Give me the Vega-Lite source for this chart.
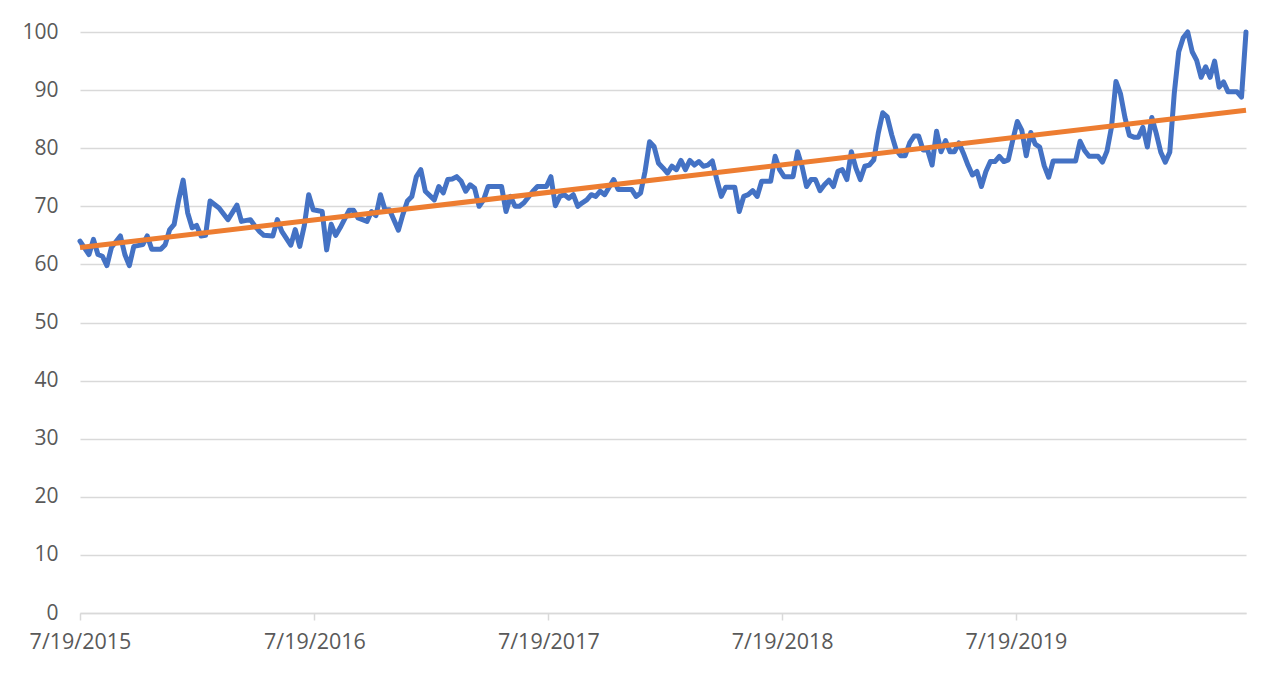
{
  "$schema": "https://vega.github.io/schema/vega-lite/v6.json",
  "width": 1166,
  "height": 581,
  "autosize": {"type": "none"},
  "padding": {"left": 80, "top": 32, "right": 34, "bottom": 68},
  "background": "white",
  "config": {"view": {"stroke": null}, "font": "Open Sans"},
  "data": {"values": [
    {"date": "2015-07-19", "value": 64},
    {"date": "2015-08-02", "value": 61.7},
    {"date": "2015-08-09", "value": 64.3},
    {"date": "2015-08-16", "value": 61.7},
    {"date": "2015-08-23", "value": 61.4},
    {"date": "2015-08-30", "value": 59.8},
    {"date": "2015-09-06", "value": 62.9},
    {"date": "2015-09-20", "value": 64.9},
    {"date": "2015-09-27", "value": 61.7},
    {"date": "2015-10-04", "value": 59.8},
    {"date": "2015-10-11", "value": 63.1},
    {"date": "2015-10-25", "value": 63.4},
    {"date": "2015-11-01", "value": 64.9},
    {"date": "2015-11-08", "value": 62.6},
    {"date": "2015-11-22", "value": 62.6},
    {"date": "2015-11-29", "value": 63.4},
    {"date": "2015-12-06", "value": 66},
    {"date": "2015-12-13", "value": 66.9},
    {"date": "2015-12-20", "value": 71.1},
    {"date": "2015-12-27", "value": 74.5},
    {"date": "2016-01-03", "value": 68.9},
    {"date": "2016-01-10", "value": 66.3},
    {"date": "2016-01-17", "value": 66.7},
    {"date": "2016-01-24", "value": 64.9},
    {"date": "2016-01-31", "value": 65},
    {"date": "2016-02-07", "value": 70.9},
    {"date": "2016-02-21", "value": 69.7},
    {"date": "2016-03-06", "value": 67.7},
    {"date": "2016-03-20", "value": 70.2},
    {"date": "2016-03-27", "value": 67.4},
    {"date": "2016-04-10", "value": 67.7},
    {"date": "2016-04-17", "value": 66.6},
    {"date": "2016-04-24", "value": 65.7},
    {"date": "2016-05-01", "value": 65},
    {"date": "2016-05-15", "value": 64.9},
    {"date": "2016-05-22", "value": 67.7},
    {"date": "2016-05-29", "value": 65.7},
    {"date": "2016-06-12", "value": 63.3},
    {"date": "2016-06-19", "value": 66},
    {"date": "2016-06-26", "value": 63.1},
    {"date": "2016-07-03", "value": 66.6},
    {"date": "2016-07-10", "value": 72},
    {"date": "2016-07-17", "value": 69.4},
    {"date": "2016-07-31", "value": 69.1},
    {"date": "2016-08-07", "value": 62.5},
    {"date": "2016-08-14", "value": 66.9},
    {"date": "2016-08-21", "value": 65},
    {"date": "2016-08-28", "value": 66.3},
    {"date": "2016-09-11", "value": 69.3},
    {"date": "2016-09-18", "value": 69.3},
    {"date": "2016-09-25", "value": 68},
    {"date": "2016-10-09", "value": 67.4},
    {"date": "2016-10-16", "value": 69.1},
    {"date": "2016-10-23", "value": 68.4},
    {"date": "2016-10-30", "value": 72},
    {"date": "2016-11-06", "value": 69.4},
    {"date": "2016-11-13", "value": 69.4},
    {"date": "2016-11-27", "value": 65.9},
    {"date": "2016-12-04", "value": 68.6},
    {"date": "2016-12-11", "value": 70.9},
    {"date": "2016-12-18", "value": 71.7},
    {"date": "2016-12-25", "value": 75.1},
    {"date": "2017-01-01", "value": 76.3},
    {"date": "2017-01-08", "value": 72.6},
    {"date": "2017-01-22", "value": 71.1},
    {"date": "2017-01-29", "value": 73.4},
    {"date": "2017-02-05", "value": 72.3},
    {"date": "2017-02-12", "value": 74.6},
    {"date": "2017-02-19", "value": 74.7},
    {"date": "2017-02-26", "value": 75.1},
    {"date": "2017-03-05", "value": 74.3},
    {"date": "2017-03-12", "value": 72.6},
    {"date": "2017-03-19", "value": 73.7},
    {"date": "2017-03-26", "value": 73.1},
    {"date": "2017-04-02", "value": 70},
    {"date": "2017-04-09", "value": 71.1},
    {"date": "2017-04-16", "value": 73.4},
    {"date": "2017-04-30", "value": 73.4},
    {"date": "2017-05-07", "value": 73.4},
    {"date": "2017-05-14", "value": 69.1},
    {"date": "2017-05-21", "value": 71.7},
    {"date": "2017-05-28", "value": 70},
    {"date": "2017-06-04", "value": 70},
    {"date": "2017-06-11", "value": 70.6},
    {"date": "2017-06-25", "value": 72.6},
    {"date": "2017-07-02", "value": 73.4},
    {"date": "2017-07-09", "value": 73.4},
    {"date": "2017-07-16", "value": 73.4},
    {"date": "2017-07-23", "value": 75.1},
    {"date": "2017-07-30", "value": 70.1},
    {"date": "2017-08-06", "value": 71.7},
    {"date": "2017-08-13", "value": 72},
    {"date": "2017-08-20", "value": 71.4},
    {"date": "2017-08-27", "value": 72},
    {"date": "2017-09-03", "value": 70},
    {"date": "2017-09-10", "value": 70.6},
    {"date": "2017-09-17", "value": 71.1},
    {"date": "2017-09-24", "value": 72},
    {"date": "2017-10-01", "value": 71.7},
    {"date": "2017-10-08", "value": 72.6},
    {"date": "2017-10-15", "value": 72},
    {"date": "2017-10-29", "value": 74.6},
    {"date": "2017-11-05", "value": 72.9},
    {"date": "2017-11-12", "value": 72.9},
    {"date": "2017-11-26", "value": 72.9},
    {"date": "2017-12-03", "value": 71.7},
    {"date": "2017-12-10", "value": 72.3},
    {"date": "2017-12-17", "value": 76},
    {"date": "2017-12-24", "value": 81.1},
    {"date": "2017-12-31", "value": 80.3},
    {"date": "2018-01-07", "value": 77.4},
    {"date": "2018-01-14", "value": 76.6},
    {"date": "2018-01-21", "value": 75.7},
    {"date": "2018-01-28", "value": 76.9},
    {"date": "2018-02-04", "value": 76.3},
    {"date": "2018-02-11", "value": 77.9},
    {"date": "2018-02-18", "value": 76.3},
    {"date": "2018-02-25", "value": 77.9},
    {"date": "2018-03-04", "value": 77.1},
    {"date": "2018-03-11", "value": 77.7},
    {"date": "2018-03-18", "value": 76.9},
    {"date": "2018-03-25", "value": 77.1},
    {"date": "2018-04-01", "value": 77.8},
    {"date": "2018-04-08", "value": 74.6},
    {"date": "2018-04-15", "value": 71.7},
    {"date": "2018-04-22", "value": 73.3},
    {"date": "2018-05-06", "value": 73.3},
    {"date": "2018-05-13", "value": 69.1},
    {"date": "2018-05-20", "value": 71.7},
    {"date": "2018-05-27", "value": 72},
    {"date": "2018-06-03", "value": 72.7},
    {"date": "2018-06-10", "value": 71.7},
    {"date": "2018-06-17", "value": 74.3},
    {"date": "2018-07-01", "value": 74.3},
    {"date": "2018-07-08", "value": 78.6},
    {"date": "2018-07-15", "value": 76.3},
    {"date": "2018-07-22", "value": 75.1},
    {"date": "2018-08-05", "value": 75.1},
    {"date": "2018-08-12", "value": 79.4},
    {"date": "2018-08-19", "value": 76.9},
    {"date": "2018-08-26", "value": 73.4},
    {"date": "2018-09-02", "value": 74.6},
    {"date": "2018-09-09", "value": 74.6},
    {"date": "2018-09-16", "value": 72.7},
    {"date": "2018-09-23", "value": 73.7},
    {"date": "2018-09-30", "value": 74.5},
    {"date": "2018-10-07", "value": 73.4},
    {"date": "2018-10-14", "value": 76},
    {"date": "2018-10-21", "value": 76.3},
    {"date": "2018-10-28", "value": 74.6},
    {"date": "2018-11-04", "value": 79.4},
    {"date": "2018-11-11", "value": 76.6},
    {"date": "2018-11-18", "value": 74.6},
    {"date": "2018-11-25", "value": 76.9},
    {"date": "2018-12-02", "value": 77.1},
    {"date": "2018-12-09", "value": 78},
    {"date": "2018-12-16", "value": 82.6},
    {"date": "2018-12-23", "value": 86.1},
    {"date": "2018-12-30", "value": 85.4},
    {"date": "2019-01-06", "value": 82.3},
    {"date": "2019-01-13", "value": 79.7},
    {"date": "2019-01-20", "value": 78.7},
    {"date": "2019-01-27", "value": 78.7},
    {"date": "2019-02-03", "value": 80.9},
    {"date": "2019-02-10", "value": 82.1},
    {"date": "2019-02-17", "value": 82.1},
    {"date": "2019-02-24", "value": 79.7},
    {"date": "2019-03-03", "value": 79.7},
    {"date": "2019-03-10", "value": 77.1},
    {"date": "2019-03-17", "value": 82.9},
    {"date": "2019-03-24", "value": 79.4},
    {"date": "2019-03-31", "value": 81.3},
    {"date": "2019-04-07", "value": 79.4},
    {"date": "2019-04-14", "value": 79.4},
    {"date": "2019-04-21", "value": 80.9},
    {"date": "2019-04-28", "value": 79.1},
    {"date": "2019-05-05", "value": 77.1},
    {"date": "2019-05-12", "value": 75.4},
    {"date": "2019-05-19", "value": 76},
    {"date": "2019-05-26", "value": 73.4},
    {"date": "2019-06-02", "value": 76},
    {"date": "2019-06-09", "value": 77.7},
    {"date": "2019-06-16", "value": 77.7},
    {"date": "2019-06-23", "value": 78.6},
    {"date": "2019-06-30", "value": 77.7},
    {"date": "2019-07-07", "value": 78},
    {"date": "2019-07-14", "value": 81.4},
    {"date": "2019-07-21", "value": 84.6},
    {"date": "2019-07-28", "value": 83.1},
    {"date": "2019-08-04", "value": 78.7},
    {"date": "2019-08-11", "value": 82.7},
    {"date": "2019-08-18", "value": 80.7},
    {"date": "2019-08-25", "value": 80.2},
    {"date": "2019-09-01", "value": 77},
    {"date": "2019-09-08", "value": 75},
    {"date": "2019-09-15", "value": 77.8},
    {"date": "2019-09-22", "value": 77.8},
    {"date": "2019-10-06", "value": 77.8},
    {"date": "2019-10-20", "value": 77.8},
    {"date": "2019-10-27", "value": 81.2},
    {"date": "2019-11-03", "value": 79.6},
    {"date": "2019-11-10", "value": 78.6},
    {"date": "2019-11-24", "value": 78.6},
    {"date": "2019-12-01", "value": 77.6},
    {"date": "2019-12-08", "value": 79.5},
    {"date": "2019-12-15", "value": 83.6},
    {"date": "2019-12-22", "value": 91.5},
    {"date": "2019-12-29", "value": 89.4},
    {"date": "2020-01-05", "value": 85.3},
    {"date": "2020-01-12", "value": 82.2},
    {"date": "2020-01-19", "value": 81.9},
    {"date": "2020-01-26", "value": 81.9},
    {"date": "2020-02-02", "value": 83.6},
    {"date": "2020-02-09", "value": 80.2},
    {"date": "2020-02-16", "value": 85.3},
    {"date": "2020-02-23", "value": 82.5},
    {"date": "2020-03-01", "value": 79.3},
    {"date": "2020-03-08", "value": 77.6},
    {"date": "2020-03-15", "value": 79.3},
    {"date": "2020-03-22", "value": 89.4},
    {"date": "2020-03-29", "value": 96.6},
    {"date": "2020-04-05", "value": 99},
    {"date": "2020-04-12", "value": 100},
    {"date": "2020-04-19", "value": 96.6},
    {"date": "2020-04-26", "value": 95.1},
    {"date": "2020-05-03", "value": 92.2},
    {"date": "2020-05-10", "value": 94},
    {"date": "2020-05-17", "value": 92.2},
    {"date": "2020-05-24", "value": 95},
    {"date": "2020-05-31", "value": 90.5},
    {"date": "2020-06-07", "value": 91.4},
    {"date": "2020-06-14", "value": 89.7},
    {"date": "2020-06-28", "value": 89.7},
    {"date": "2020-07-05", "value": 88.8},
    {"date": "2020-07-12", "value": 100}
  ]},
  "encoding": {
    "x": {
      "field": "date",
      "type": "temporal",
      "scale": {
        "type": "utc",
        "nice": false,
        "domain": [
          {"year": 2015, "month": 7, "date": 19, "utc": true},
          {"year": 2020, "month": 7, "date": 12, "utc": true}
        ]
      },
      "axis": {
        "title": null,
        "grid": false,
        "values": [
          {"year": 2015, "month": 7, "date": 19, "utc": true},
          {"year": 2016, "month": 7, "date": 19, "utc": true},
          {"year": 2017, "month": 7, "date": 19, "utc": true},
          {"year": 2018, "month": 7, "date": 19, "utc": true},
          {"year": 2019, "month": 7, "date": 19, "utc": true}
        ],
        "format": "%-m/%-d/%Y",
        "domainColor": "#d9d9d9",
        "domainWidth": 1.5,
        "tickColor": "#d9d9d9",
        "tickWidth": 1.5,
        "tickSize": 7,
        "labelFontSize": 21.5,
        "labelColor": "#595959",
        "labelPadding": 11,
        "labelFlush": false,
        "labelOverlap": false
      }
    },
    "y": {
      "field": "value",
      "type": "quantitative",
      "scale": {"domain": [0, 100], "nice": false, "zero": true},
      "axis": {
        "title": null,
        "values": [0, 10, 20, 30, 40, 50, 60, 70, 80, 90, 100],
        "domain": false,
        "ticks": false,
        "gridColor": "#d9d9d9",
        "gridWidth": 1.5,
        "labelFontSize": 21,
        "labelColor": "#595959",
        "labelPadding": 22
      }
    }
  },
  "layer": [
    {"mark": {"type": "line", "color": "#4472C4", "strokeWidth": 5, "strokeJoin": "round", "strokeCap": "round"}},
    {
      "transform": [{"regression": "value", "on": "date", "method": "linear"}],
      "mark": {"type": "line", "color": "#ED7D31", "strokeWidth": 5, "strokeCap": "butt"}
    }
  ]
}
